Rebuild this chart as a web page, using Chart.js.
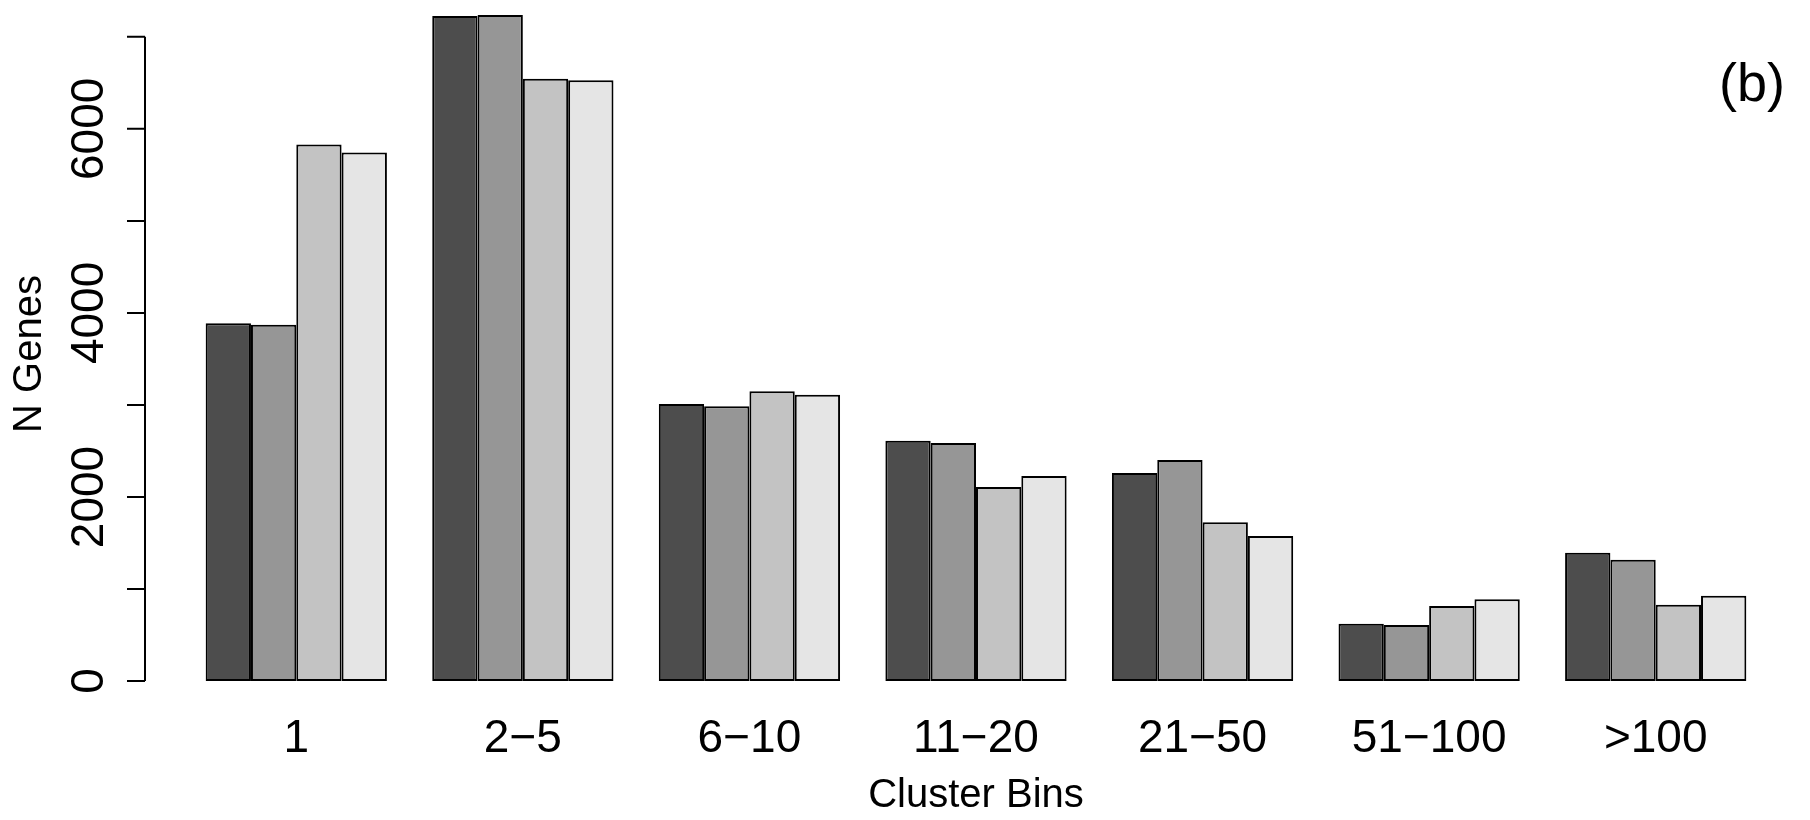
<!DOCTYPE html>
<html>
<head>
<meta charset="utf-8">
<script src="https://cdn.jsdelivr.net/npm/chart.js@4"></script>
<style>
  html, body { margin: 0; padding: 0; background: #fff; }
  #wrap { width: 1810px; height: 820px; }
</style>
</head>
<body>
<div id="wrap"><canvas id="geneChart" width="1810" height="820"></canvas></div>
<script>
const categories = ['1', '2\u22125', '6\u221210', '11\u221220', '21\u221250', '51\u2212100', '>100'];
const series1 = [3887, 7226, 3010, 2611, 2260, 623, 1394];
const series2 = [3870, 7237, 2985, 2586, 2401, 608, 1318];
const series3 = [5830, 6545, 3148, 2108, 1724, 815, 829];
const series4 = [5742, 6527, 3111, 2228, 1576, 888, 927];
const yTickValues = [0, 1000, 2000, 3000, 4000, 5000, 6000, 7000];
const yTickLabels = ['0', '2000', '4000', '6000'];
const barColors = ['#4D4D4D', '#969696', '#C3C3C3', '#E5E5E5'];

const fontFamily = '"Liberation Sans", Arial, Helvetica, sans-serif';

// R style y axis: line only from first to last tick, sits apart from the bars
const rAxisPlugin = {
    id: 'rAxis',
    afterDraw: (chart) => {
        const ctx = chart.ctx;
        const y = chart.scales.y;
        const axisX = chart.chartArea.left - 38;
        ctx.save();
        ctx.strokeStyle = '#000';
        ctx.lineWidth = 2;
        const top = y.getPixelForValue(y.ticks[y.ticks.length - 1].value);
        const bottom = y.getPixelForValue(y.ticks[0].value);
        ctx.beginPath();
        ctx.moveTo(axisX, bottom);
        ctx.lineTo(axisX, top);
        y.ticks.forEach(t => {
            const py = y.getPixelForValue(t.value);
            ctx.moveTo(axisX - 18, py);
            ctx.lineTo(axisX, py);
        });
        ctx.stroke();

        ctx.fillStyle = '#000';
        ctx.font = '46px ' + fontFamily;
        ctx.textAlign = 'center';
        ctx.textBaseline = 'middle';
        y.ticks.forEach(t => {
            const label = String(t.value);
            if (!yTickLabels.includes(label)) return;
            const py = y.getPixelForValue(t.value);
            ctx.save();
            ctx.translate(axisX - 55, py);
            ctx.rotate(-Math.PI / 2);
            ctx.fillText(label, 0, 0);
            ctx.restore();
        });

        // panel tag
        ctx.font = '54px ' + fontFamily;
        ctx.fillText('(b)', chart.width - 58, 86);
        ctx.restore();
    }
};

const ctx = document.getElementById('geneChart').getContext('2d');
new Chart(ctx, {
    type: 'bar',
    plugins: [rAxisPlugin],
    data: {
        labels: categories,
        datasets: [series1, series2, series3, series4].map((d, i) => ({
            data: d,
            backgroundColor: barColors[i],
            borderColor: '#000',
            borderWidth: 2,
            borderSkipped: false,
            categoryPercentage: 0.8,
            barPercentage: 1.0
        }))
    },
    options: {
        responsive: false,
        animation: false,
        devicePixelRatio: 1,
        layout: { padding: { left: 0, right: 41, top: 0, bottom: 0 } },
        plugins: {
            legend: { display: false },
            tooltip: { enabled: false }
        },
        scales: {
            x: {
                grid: { display: false },
                border: { display: false },
                ticks: {
                    color: '#000',
                    padding: 0,
                    maxRotation: 0,
                    font: { size: 46, family: fontFamily, lineHeight: 1 }
                },
                title: {
                    display: true,
                    text: 'Cluster Bins',
                    color: '#000',
                    padding: { top: 0, bottom: 0 },
                    font: { size: 40, family: fontFamily }
                },
                afterFit: (scale) => { scale.height = 112; }
            },
            y: {
                min: -293,
                max: 7400,
                grid: { display: false },
                border: { display: false },
                ticks: { display: false },
                afterBuildTicks: (scale) => {
                    scale.ticks = yTickValues.map(v => ({ value: v }));
                },
                title: {
                    display: true,
                    text: 'N Genes',
                    color: '#000',
                    padding: { top: 6, bottom: 0 },
                    font: { size: 40, family: fontFamily }
                },
                afterFit: (scale) => { scale.width = 183; }
            }
        }
    }
});
</script>
</body>
</html>
